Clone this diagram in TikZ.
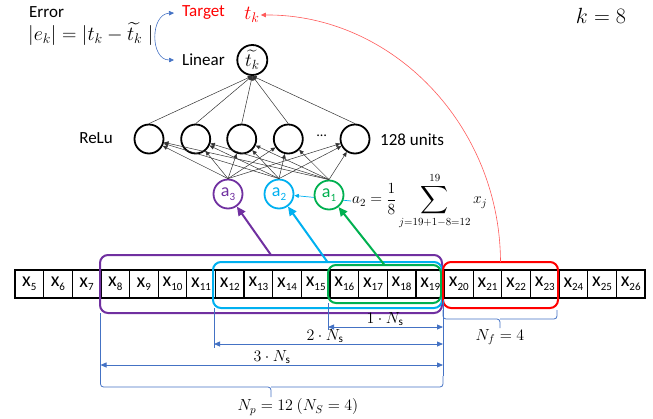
\RequirePackage{fix-cm}
\documentclass[tikz,border=0pt]{standalone}
\usepackage{amsmath}
\usepackage{fontspec}
\setmainfont{Carlito}
\usetikzlibrary{arrows.meta,backgrounds}

\definecolor{ppl}{RGB}{112,48,160}
\definecolor{cyn}{RGB}{0,176,240}
\definecolor{grn}{RGB}{0,176,80}
\definecolor{rd}{RGB}{255,0,0}
\definecolor{rdl}{RGB}{255,90,90}
\definecolor{dimblue}{RGB}{68,114,196}

% cell label: big x with a small lowered index
\newcommand{\xcell}[1]{{\fontsize{20}{20}\selectfont x}\raisebox{-3.5pt}{\fontsize{11}{11}\selectfont #1}}
% input node label: a with a small lowered index
\newcommand{\acell}[1]{{\fontsize{18}{18}\selectfont a}\raisebox{-3.5pt}{\fontsize{11}{11}\selectfont #1}}
% enlarged summation sign
\newcommand{\bigsum}{\mathop{\vcenter{\hbox{\scalebox{1.35}{$\displaystyle\sum$}}}}}

\tikzset{
  txt/.style={inner sep=1pt, font=\fontsize{17}{20}\selectfont},
  mth/.style={inner sep=1pt, font=\fontsize{20}{24}\selectfont},
  cellbox/.style={draw, line width=1.3pt, minimum width=28.64pt, minimum height=28pt, inner sep=0pt, outer sep=0pt},
  winbox/.style={line width=2pt, rounded corners=8pt, inner sep=0pt, outer sep=0pt},
  neuron/.style={circle, draw, line width=1.8pt, minimum size=29pt, inner sep=0pt, fill=white},
  anode/.style={circle, draw=#1, text=#1, line width=1.8pt, minimum size=29pt, inner sep=0pt, fill=white},
  wire/.style={line width=0.5pt, draw=black!80, -{Triangle[length=4.5pt,width=4pt]}},
  feed/.style={line width=2pt, draw=#1, -{Triangle[length=9pt,width=8pt]}},
  dimline/.style={line width=0.8pt, draw=dimblue},
  dimarrow/.style={dimline, {Triangle[length=6pt,width=5pt]}-{Triangle[length=6pt,width=5pt]}},
  dimlbl/.style={inner sep=1pt, font=\fontsize{16}{18}\selectfont},
}

\begin{document}
\begin{tikzpicture}[x=1pt,y=-1pt]
\useasboundingbox (0,0) rectangle (653,418);

% ---- input sequence x5 ... x26
\foreach \i [evaluate=\i as \cx using 15+28.636*(\i-5)+14.318] in {5,...,26}
  \node[cellbox] (c\i) at (\cx,284) {\xcell{\i}};

% ---- sliding windows
\node[winbox, draw=ppl, minimum width=342pt, minimum height=58pt] (pbox) at (271,284) {};
\node[winbox, draw=cyn, minimum width=229pt, minimum height=46pt] (cbox) at (327.5,285) {};
\node[winbox, draw=grn, minimum width=113pt, minimum height=38pt] (gbox) at (384.5,284) {};
\node[winbox, draw=rd,  minimum width=115pt, minimum height=46pt] (rbox) at (500.5,285) {};

% ---- averaged inputs
\node[anode=ppl] (a3) at (228,194) {\acell{3}};
\node[anode=cyn] (a2) at (279,194) {\acell{2}};
\node[anode=grn] (a1) at (329,195) {\acell{1}};

% ---- hidden layer
\node[neuron] (r1) at (149,139) {};
\node[neuron] (r2) at (195.7,139) {};
\node[neuron] (r3) at (241.7,139) {};
\node[neuron] (r4) at (288.3,139) {};
\node[neuron] (r5) at (355,139) {};
\node[txt] (dots) at (321.7,136) {\fontsize{14}{14}\selectfont\ldots};
\node[txt, anchor=east] (relu) at (114,138) {ReLu};
\node[txt, anchor=west] (units) at (379,140) {128 units};

% ---- output
\node[neuron, minimum size=30pt] (lin) at (252.3,60)
  {\fontsize{19}{19}\selectfont$\widetilde{t_k}$};
\node[txt, anchor=west] (lintxt) at (181,60) {Linear};
\node[txt, anchor=west, text=rd] (tgt) at (181,13) {Target};
\node[mth, text=rd] (tk) at (252,15) {$t_k$};
\node[txt, anchor=west] (err) at (28,12) {Error};
\node[mth, anchor=west] (eq) at (27,34) {$|e_k| = |t_k - \widetilde{t_k}\;|$};
\node[mth, font=\fontsize{22}{24}\selectfont] (keq) at (601,16) {$k = 8$};

% ---- window average formula
\node[anchor=west, inner sep=1pt, font=\fontsize{15.5}{19}\selectfont] (fml) at (351,201)
  {$\displaystyle a_2 = \frac{1}{8}\bigsum\limits_{j=19+1-8=12}^{19} x_j$};
\begin{pgfonlayer}{background}
  \draw[line width=0.7pt, draw=cyn, -{Triangle[length=4.5pt,width=4pt]}] (fml.west) -- (a2);
\end{pgfonlayer}

% ---- connections
\foreach \a in {a1,a2,a3}
  \foreach \r in {r1,r2,r3,r4,r5}
    \draw[wire] (\a.north) -- (\r);
\foreach \r in {r1,r2,r3,r4,r5}
  \draw[wire] (\r.north) -- (lin.south);

\draw[feed=ppl] (pbox.north) -- (a3);
\draw[feed=cyn] (cbox.north) -- (a2);
\draw[feed=grn] (gbox.north) -- (a1);

% target link and error loop
\draw[line width=0.6pt, draw=rdl, -{Triangle[length=5pt,width=4.5pt]}]
  (rbox.north) .. controls (500,125) and (392,14) .. (tk.east);
\draw[line width=0.6pt, draw=dimblue, {Triangle[length=5pt,width=4.5pt]}-{Triangle[length=5pt,width=4.5pt]}]
  ([xshift=-7pt]tgt.west) .. controls (150,14) and (150,60) .. ([xshift=-7pt]lintxt.west);

% ---- dimensions
\coordinate (v0t) at (100.5,313);  \coordinate (v0b) at (100.5,376);
\coordinate (v1t) at (214,308);    \coordinate (v1b) at (214,348);
\coordinate (v2t) at (328,303);    \coordinate (v2b) at (328,330);
\coordinate (v3t) at (443,300);    \coordinate (v3b) at (443,376);
\draw[dimline] (v0t) -- (v0b);
\draw[dimline] (v1t) -- (v1b);
\draw[dimline] (v2t) -- (v2b);
\draw[dimline] (v3t) -- (v3b);

\coordinate (d1l) at (328,327);   \coordinate (d1r) at (443,327);
\coordinate (d2l) at (214,344);   \coordinate (d2r) at (443,344);
\coordinate (d3l) at (100.5,365); \coordinate (d3r) at (443,365);
\draw[dimarrow] (d1l) -- (d1r);
\draw[dimarrow] (d2l) -- (d2r);
\draw[dimarrow] (d3l) -- (d3r);
\node[dimlbl] (l1) at (385,319) {$1\cdot N_{\mathrm{s}}$};
\node[dimlbl] (l2) at (325,336) {$2\cdot N_{\mathrm{s}}$};
\node[dimlbl] (l3) at (272,357) {$3\cdot N_{\mathrm{s}}$};

% brackets
\coordinate (bp) at (271,387);
\draw[dimline, rounded corners=3pt] (v0b) |- (bp) -- (271,397);
\draw[dimline, rounded corners=3pt] (v3b) |- (bp);
\node[dimlbl] (np) at (298,407) {$N_p = 12\ (N_S = 4)$};

\coordinate (bf) at (500,319);
\draw[dimline, rounded corners=3pt] (443,310) |- (bf) -- (500,328);
\draw[dimline, rounded corners=3pt] (557,310) |- (bf);
\node[dimlbl] (nf) at (500,337) {$N_f = 4$};
\end{tikzpicture}
\end{document}
